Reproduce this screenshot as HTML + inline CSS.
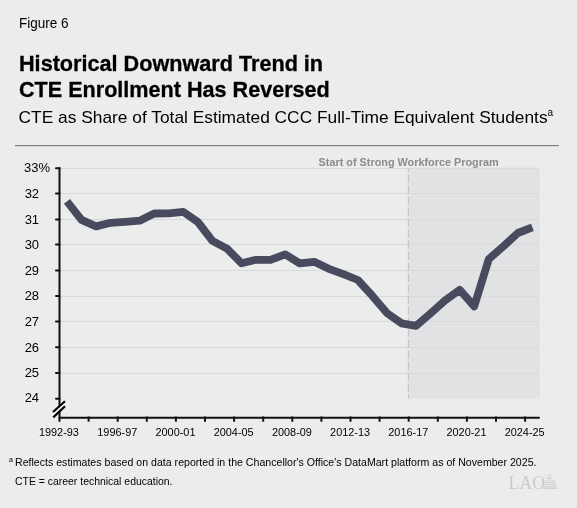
<!DOCTYPE html>
<html><head><meta charset="utf-8">
<style>
html,body{margin:0;padding:0;background:#ebedec;}
body{width:577px;height:508px;overflow:hidden;position:relative;font-family:"Liberation Sans",sans-serif;}
svg{position:absolute;left:0;top:0;will-change:transform;}
</style></head><body>
<svg width="577" height="508" viewBox="0 0 577 508" font-family="Liberation Sans, sans-serif">
<rect x="0" y="0" width="577" height="508" fill="#ebedec"/>
<!-- header -->
<text id="fig" x="19.0" y="27.8" font-size="14.5" textLength="49.6" lengthAdjust="spacingAndGlyphs" fill="#000">Figure 6</text>
<text id="t1" x="19.0" y="71" font-size="22" textLength="304.1" lengthAdjust="spacingAndGlyphs" font-weight="bold" fill="#000" stroke="#000" stroke-width="0.3">Historical Downward Trend in</text>
<text id="t2" x="19.0" y="96.7" font-size="22" textLength="310.8" lengthAdjust="spacingAndGlyphs" font-weight="bold" fill="#000" stroke="#000" stroke-width="0.3">CTE Enrollment Has Reversed</text>
<text id="sub" x="18.6" y="122.8" font-size="17" textLength="529" lengthAdjust="spacingAndGlyphs" fill="#000">CTE as Share of Total Estimated CCC Full-Time Equivalent Students</text>
<text id="supa" x="547.6" y="116.1" font-size="10" fill="#000">a</text>
<!-- top rule -->
<rect x="15" y="145" width="544" height="1.2" fill="#838488"/>
<!-- shaded region -->
<rect x="408.5" y="167.4" width="131.2" height="231.2" fill="#e1e2e4"/>
<!-- gridlines -->
<g fill="#d8d9da">
<rect x="60" y="168" width="479" height="1"/>
<rect x="60" y="193" width="479" height="1"/>
<rect x="60" y="219" width="479" height="1"/>
<rect x="60" y="244" width="479" height="1"/>
<rect x="60" y="270" width="479" height="1"/>
<rect x="60" y="296" width="479" height="1"/>
<rect x="60" y="321" width="479" height="1"/>
<rect x="60" y="347" width="479" height="1"/>
<rect x="60" y="373" width="479" height="1"/>
</g>
<!-- dashed line -->
<line x1="408.4" y1="168" x2="408.4" y2="398.6" stroke="#c4c5c6" stroke-width="1.2" stroke-dasharray="8.5,2.5" stroke-dashoffset="4.5"/>
<text id="swp" x="408.6" y="165.6" textLength="180" lengthAdjust="spacingAndGlyphs" font-size="11" font-weight="bold" fill="#8a8b8d" text-anchor="middle">Start of Strong Workforce Program</text>
<!-- data line -->
<polyline id="data" fill="none" stroke="#4a4a5e" stroke-width="7.8" stroke-linejoin="round" stroke-linecap="butt" points="66.97,201.3 81.52,219.9 96.06,226.4 110.60,222.8 125.15,221.9 139.69,220.7 154.24,213.5 168.78,213.3 183.33,211.9 197.88,222.0 212.42,240.9 226.97,248.6 241.51,263.3 256.06,259.8 270.60,259.8 285.14,254.3 299.69,263.4 314.24,261.8 328.78,268.8 343.33,274.2 357.87,280.0 372.41,295.9 386.96,313.1 401.50,323.3 416.05,325.9 430.60,313.4 445.14,300.4 459.68,289.8 474.23,306.4 488.77,259.1 503.32,246.4 517.87,233.0 532.41,227.4"/>
<!-- axes -->
<g stroke="#111" stroke-width="2" stroke-linecap="round">
<line x1="59.5" y1="168" x2="59.5" y2="421"/>
<line x1="59.5" y1="417.8" x2="539" y2="417.8"/>
<line x1="56" y1="168.2" x2="59.5" y2="168.2"/>
<line x1="56" y1="193.6" x2="59.5" y2="193.6"/>
<line x1="56" y1="219.4" x2="59.5" y2="219.4"/>
<line x1="56" y1="244.6" x2="59.5" y2="244.6"/>
<line x1="56" y1="270.5" x2="59.5" y2="270.5"/>
<line x1="56" y1="296" x2="59.5" y2="296"/>
<line x1="56" y1="321.6" x2="59.5" y2="321.6"/>
<line x1="56" y1="347.2" x2="59.5" y2="347.2"/>
<line x1="56" y1="373" x2="59.5" y2="373"/>
<line x1="56" y1="398.8" x2="59.5" y2="398.8"/>
</g>
<g stroke="#111" stroke-width="2">
<line x1="88.6" y1="416.5" x2="88.6" y2="421.7"/>
<line x1="117.7" y1="416.5" x2="117.7" y2="421.7"/>
<line x1="146.8" y1="416.5" x2="146.8" y2="421.7"/>
<line x1="175.9" y1="416.5" x2="175.9" y2="421.7"/>
<line x1="205" y1="416.5" x2="205" y2="421.7"/>
<line x1="234.1" y1="416.5" x2="234.1" y2="421.7"/>
<line x1="263.2" y1="416.5" x2="263.2" y2="421.7"/>
<line x1="292.3" y1="416.5" x2="292.3" y2="421.7"/>
<line x1="321.4" y1="416.5" x2="321.4" y2="421.7"/>
<line x1="350.5" y1="416.5" x2="350.5" y2="421.7"/>
<line x1="379.6" y1="416.5" x2="379.6" y2="421.7"/>
<line x1="408.7" y1="416.5" x2="408.7" y2="421.7"/>
<line x1="437.8" y1="416.5" x2="437.8" y2="421.7"/>
<line x1="466.9" y1="416.5" x2="466.9" y2="421.7"/>
<line x1="496" y1="416.5" x2="496" y2="421.7"/>
<line x1="525.1" y1="416.5" x2="525.1" y2="421.7"/>
</g>
<!-- axis break -->
<polygon points="52.5,413 65.5,402 65.5,406.5 52.5,417.5" fill="#f7f8f8"/>
<g stroke="#000" stroke-width="2.2" stroke-linecap="butt">
<line x1="53" y1="412" x2="65" y2="401.2"/>
<line x1="53.2" y1="417.4" x2="65" y2="406.3"/>
</g>
<!-- y labels -->
<g font-size="13" fill="#000" text-anchor="end">
<text id="y33" x="50" y="171.7">33%</text>
<text x="39.1" y="198">32</text>
<text x="39.1" y="223.8">31</text>
<text x="39.1" y="249">30</text>
<text x="39.1" y="274.9">29</text>
<text x="39.1" y="300.4">28</text>
<text x="39.1" y="326">27</text>
<text x="39.1" y="351.6">26</text>
<text x="39.1" y="377.4">25</text>
<text id="y24" x="39.1" y="402.2">24</text>
</g>
<!-- x labels -->
<g font-size="10.5" fill="#000" text-anchor="middle">
<text id="x92" x="58.9" y="436" textLength="40" lengthAdjust="spacingAndGlyphs">1992-93</text>
<text x="117.3" y="436" textLength="40" lengthAdjust="spacingAndGlyphs">1996-97</text>
<text x="175.5" y="436" textLength="40" lengthAdjust="spacingAndGlyphs">2000-01</text>
<text x="233.7" y="436" textLength="40" lengthAdjust="spacingAndGlyphs">2004-05</text>
<text x="291.9" y="436" textLength="40" lengthAdjust="spacingAndGlyphs">2008-09</text>
<text x="350.1" y="436" textLength="40" lengthAdjust="spacingAndGlyphs">2012-13</text>
<text x="408.3" y="436" textLength="40" lengthAdjust="spacingAndGlyphs">2016-17</text>
<text id="x20" x="466.5" y="436" textLength="40" lengthAdjust="spacingAndGlyphs">2020-21</text>
<text id="x24" x="524.7" y="436" textLength="40" lengthAdjust="spacingAndGlyphs">2024-25</text>
</g>
<!-- footnotes -->
<g font-size="10.5" fill="#000">
<text id="fa" x="9" y="461.8" font-size="7">a</text>
<text id="fn1" x="15" y="465.8" textLength="521.5" lengthAdjust="spacingAndGlyphs">Reflects estimates based on data reported in the Chancellor's Office's DataMart platform as of November 2025.</text>
<text id="fn2" x="15" y="484.5" textLength="157.5" lengthAdjust="spacingAndGlyphs">CTE = career technical education.</text>
</g>
<!-- LAO logo -->
<g fill="#c9cacc">
<text id="lao" x="508.6" y="488.9" font-family="Liberation Serif, serif" font-size="19.5" textLength="36.5" lengthAdjust="spacingAndGlyphs">LAO</text>
<rect x="548.3" y="475.2" width="2.2" height="2.8" fill="none" stroke="#cfd0d2" stroke-width="0.7"/>
<path d="M547,478.6 L551.6,478.6 Q554.4,480.8 555.4,485.6" fill="none" stroke="#c9cacc" stroke-width="0.9"/>
<rect x="546" y="480.4" width="7" height="0.7" fill="#d3d4d6"/>
<rect x="544" y="482" width="10" height="0.8"/>
<rect x="544" y="484" width="11" height="0.8"/>
<rect x="544.5" y="485.8" width="11.5" height="0.8"/>
<path d="M543.2,487.5 L556.5,487.5 L558.2,488.8 L543.2,488.8 Z"/>
</g>
</svg>
</body></html>
